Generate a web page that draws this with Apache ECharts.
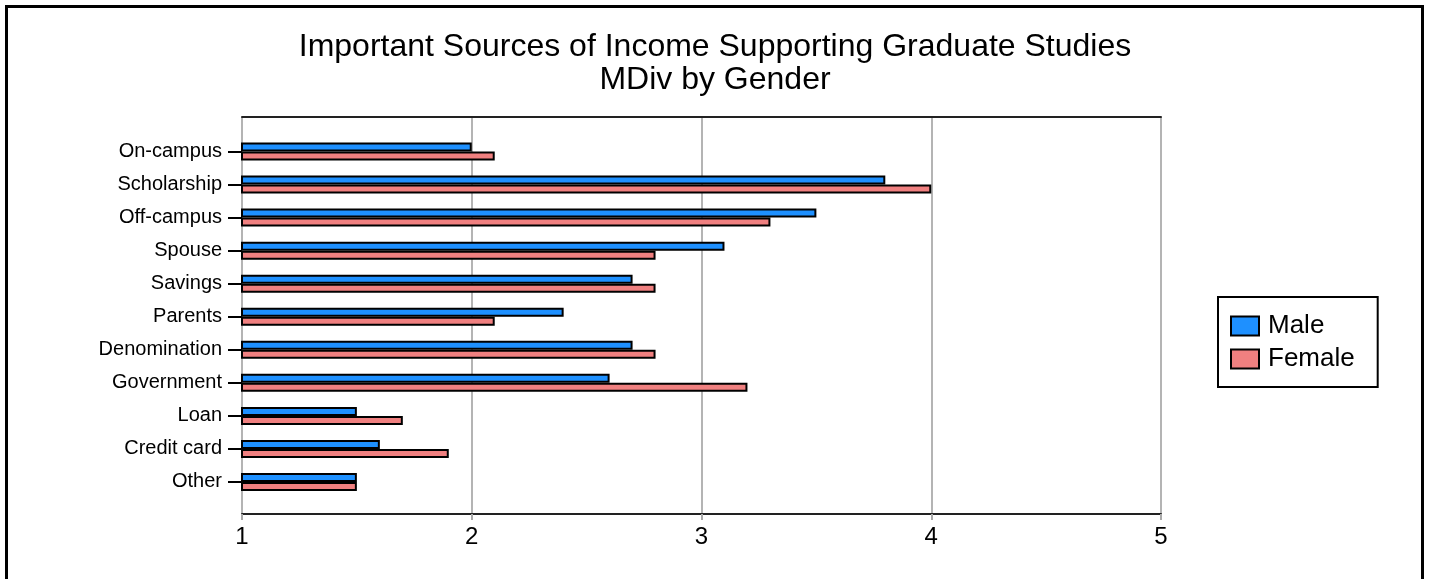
<!DOCTYPE html>
<html>
<head>
<meta charset="utf-8">
<script src="https://cdn.jsdelivr.net/npm/echarts@6/dist/echarts.min.js"></script>
<style>
html,body{margin:0;padding:0;background:#fff;}
#chart{width:1430px;height:579px;}
</style>
</head>
<body>
<div id="chart"></div>
<script>
const categories = ['On-campus','Scholarship','Off-campus','Spouse','Savings','Parents','Denomination','Government','Loan','Credit card','Other'];
const maleValues   = [2.0, 3.8, 3.5, 3.1, 2.7, 2.4, 2.7, 2.6, 1.5, 1.6, 1.5];
const femaleValues = [2.1, 4.0, 3.3, 2.8, 2.8, 2.1, 2.8, 3.2, 1.7, 1.9, 1.5];
const seriesNames = ['Male','Female'];
const titleText = 'Important Sources of Income Supporting Graduate Studies\nMDiv by Gender';
const FONT = '"Liberation Sans", Arial, sans-serif';

const chart = echarts.init(document.getElementById('chart'), null, {renderer:'canvas'});
chart.setOption({
  backgroundColor:'#fff',
  animation:false,
  textStyle:{fontFamily:FONT},
  title:{
    text:titleText, left:'center', top:31, padding:0,
    textStyle:{fontFamily:FONT, fontSize:32, fontWeight:'normal', color:'#000', lineHeight:33}
  },
  graphic:[{
    type:'rect', shape:{x:6.5,y:6.5,width:1416,height:620},
    style:{fill:'none', stroke:'#000', lineWidth:3}, z:100, silent:true
  }],
  legend:{
    orient:'vertical', left:1218, top:297,
    data:seriesNames,
    backgroundColor:'#fff', borderColor:'#000', borderWidth:2,
    padding:[16,23,15,12], itemGap:7,
    itemWidth:28, itemHeight:19, icon:'rect',
    textStyle:{fontFamily:FONT, fontSize:26, color:'#000', lineHeight:26, padding:[0,0,0,4]}
  },
  grid:[
    {left:242, top:117, width:919, height:397},
    {left:242, top:135, width:919, height:363.5}
  ],
  xAxis:[
    {gridIndex:0, type:'value', min:1, max:5, interval:1, position:'bottom',
     axisLine:{show:true, lineStyle:{color:'#222', width:2}},
     axisTick:{show:true, length:6, lineStyle:{color:'#aaa', width:2}},
     axisLabel:{fontFamily:FONT, fontSize:24, color:'#000', margin:11},
     splitLine:{show:true, lineStyle:{color:'#b4b4b4', width:2}}},
    {gridIndex:0, type:'value', min:1, max:5, interval:1, position:'top',
     axisLine:{show:true, lineStyle:{color:'#222', width:2}},
     axisTick:{show:false}, axisLabel:{show:false}, splitLine:{show:false}},
    {gridIndex:1, type:'value', min:1, max:5, interval:1, show:false}
  ],
  yAxis:[
    {gridIndex:0, type:'value', show:false, min:0, max:1},
    {gridIndex:1, type:'category', data:categories, inverse:true,
     axisLine:{show:false},
     axisTick:{show:true, alignWithLabel:true, length:14, lineStyle:{color:'#000', width:2}},
     axisLabel:{fontFamily:FONT, fontSize:20, color:'#000', margin:20},
     splitLine:{show:false}}
  ],
  series:[
    {name:seriesNames[0], type:'bar', xAxisIndex:2, yAxisIndex:1, data:maleValues,
     barWidth:9, barGap:'0%',
     itemStyle:{color:'#1E90FF', borderColor:'#000', borderWidth:2}},
    {name:seriesNames[1], type:'bar', xAxisIndex:2, yAxisIndex:1, data:femaleValues,
     barWidth:9, barGap:'0%',
     itemStyle:{color:'#F08080', borderColor:'#000', borderWidth:2}}
  ]
});
</script>
</body>
</html>
